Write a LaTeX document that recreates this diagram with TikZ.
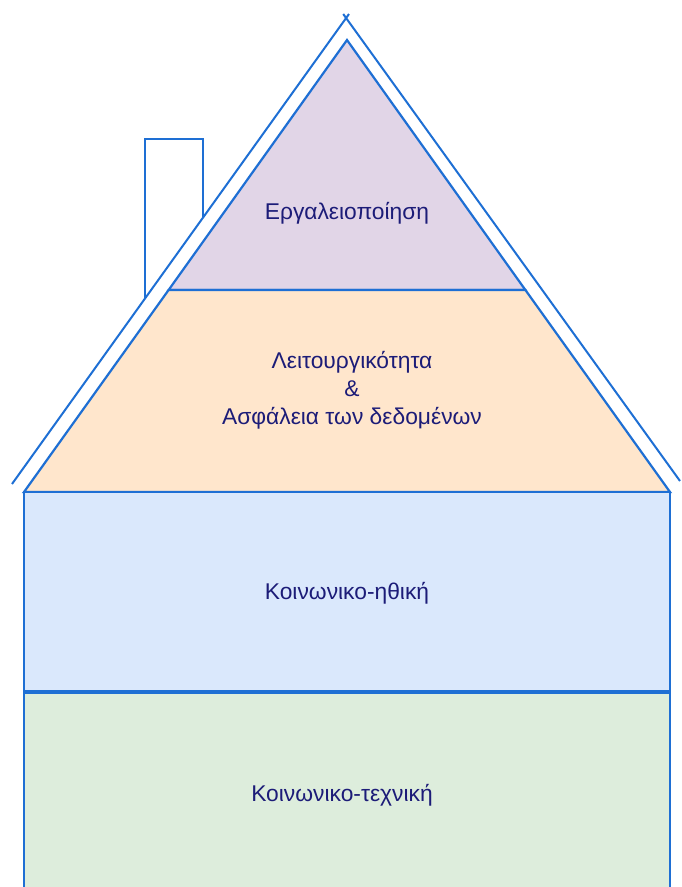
\documentclass[tikz,border=0pt]{standalone}
\usepackage{fontspec}
\setmainfont{Liberation Sans}
\definecolor{edgeblue}{HTML}{1E6FD4}
\definecolor{labelnavy}{HTML}{1C1C78}
\definecolor{fillpurple}{HTML}{E1D5E7}
\definecolor{fillorange}{HTML}{FFE6CC}
\definecolor{fillblue}{HTML}{DAE8FC}
\definecolor{fillgreen}{HTML}{DDEDDC}
\tikzset{
  outline/.style={draw=edgeblue, line width=2.2pt, line join=miter},
  label/.style={text=labelnavy, font=\fontsize{22.8}{28}\selectfont, align=center, inner sep=0pt},
}
\begin{document}
\begin{tikzpicture}[x=1pt, y=-1pt]
  \path[use as bounding box] (0,0) rectangle (681,887);
  \clip (0,0) rectangle (681,887);

  % key points of the roof
  \coordinate (apex) at (347,40);
  \coordinate (tl) at (168.6,290);
  \coordinate (tr) at (525.4,290);
  \coordinate (bl) at (24,492);
  \coordinate (br) at (670,492);

  % chimney behind the roof edge
  \draw[outline, line width=2pt] (145,298) -- (145,138.5) -- (203,138.5) -- (203,217);

  % outer roof edge: two lines crossing at the ridge
  \coordinate (eaveL) at (12,484);
  \coordinate (eaveR) at (680,481);
  \coordinate (ridgeL) at (349,14);
  \coordinate (ridgeR) at (343.2,14);
  \draw[outline, line width=2pt] (eaveL) -- (ridgeL);
  \draw[outline, line width=2pt] (eaveR) -- (ridgeR);

  % roof layers
  \draw[outline, fill=fillpurple] (apex) -- (tr) -- (tl) -- cycle;
  \draw[outline, fill=fillorange] (tl) -- (tr) -- (br) -- (bl) -- cycle;

  % house body
  \draw[outline, fill=fillblue] (24,492) rectangle (670,691);
  \draw[outline, fill=fillgreen] (24,693) rectangle (670,900);

  % texts
  \node[label] (tools) at (347,213) {Εργαλειοποίηση};
  \node[label] (func) at (352,390) {Λειτουργικότητα\\\&\\Ασφάλεια των δεδομένων};
  \node[label] (ethic) at (347,593) {Κοινωνικο-ηθική};
  \node[label] (tech) at (342,795) {Κοινωνικο-τεχνική};
\end{tikzpicture}
\end{document}
